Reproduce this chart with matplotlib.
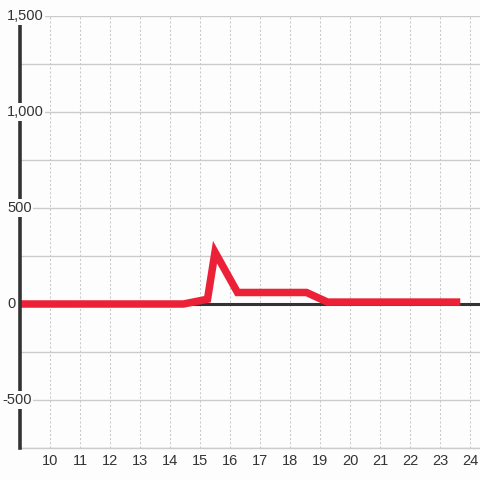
import matplotlib
matplotlib.use("Agg")
import matplotlib.pyplot as plt
from matplotlib.transforms import blended_transform_factory

plt.rcParams['font.family'] = ['Liberation Sans', 'DejaVu Sans']

# ---- data ----
hours = [9, 14.45, 15.25, 15.5, 16.25, 18.55, 19.25, 23.55]
values = [0, 0, 25, 270, 60, 60, 10, 10]

x_ticks = list(range(10, 25))
y_labels = [-500, 0, 500, 1000, 1500]
y_grid = [-750, -500, -250, 0, 250, 500, 750, 1000, 1250, 1500]

bg = '#fdfdfd'
fig = plt.figure(figsize=(4.8, 4.8), dpi=100, facecolor=bg)
ax = fig.add_axes([20 / 480, 32 / 480, 460 / 480, 432 / 480], facecolor=bg)

ax.set_xlim(9, 24.333)
ax.set_ylim(-750, 1500)

# grid
for y in y_grid:
    ax.axhline(y, color='#cccccc', lw=1, zorder=1)
for x in x_ticks:
    ax.axvline(x, color='#c8c8c8', lw=0.75, ls=(0, (2, 2)), zorder=1)

ax.axhline(0, color='#333333', lw=2.2, zorder=2)
ax.plot(hours, values, color='#ec2036', lw=5.4, solid_joinstyle='miter', zorder=3)

for s in ['top', 'right']:
    ax.spines[s].set_visible(False)
ax.spines['bottom'].set_color('#cccccc')
ax.spines['bottom'].set_linewidth(1)
ax.spines['left'].set_color('#333333')
ax.spines['left'].set_linewidth(2.6)
ax.spines['left'].set_zorder(4)

ax.set_xticks(x_ticks)
ax.set_xticklabels([str(x) for x in x_ticks], fontsize=10.5, color='#333333')
ax.tick_params(axis='x', length=0, pad=4)
ax.set_yticks([])

tr = blended_transform_factory(fig.transFigure, ax.transData)
for v in y_labels:
    ax.text(7 / 480 if v >= 0 else 2 / 480, v, f"{v:,}", transform=tr, ha='left', va='center',
            fontsize=10.5, color='#333333', zorder=5, clip_on=False,
            bbox=dict(facecolor=bg, edgecolor='none', pad=1.2))

fig.savefig('out.png', dpi=100, facecolor=bg)
